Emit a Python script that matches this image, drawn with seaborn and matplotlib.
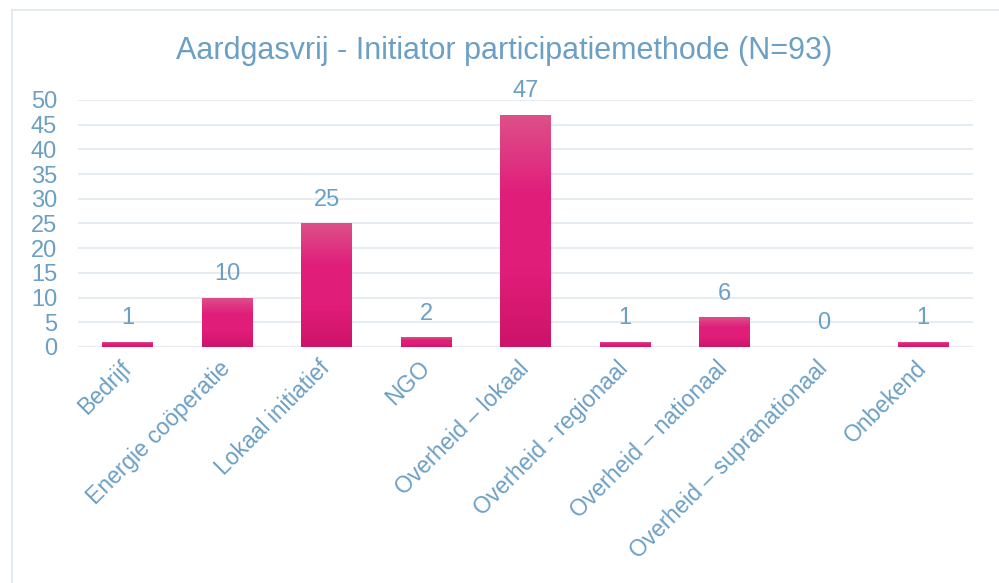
import numpy as np
import matplotlib
matplotlib.use("Agg")
import matplotlib.pyplot as plt
from matplotlib.colors import LinearSegmentedColormap
from matplotlib.patches import Rectangle
import seaborn as sns

# data
categories = ["Bedrijf", "Energie coöperatie", "Lokaal initiatief", "NGO",
              "Overheid \u2013 lokaal", "Overheid - regionaal", "Overheid \u2013 nationaal",
              "Overheid \u2013 supranationaal", "Onbekend"]
values = [1, 10, 25, 2, 47, 1, 6, 0, 1]
yticks = [0, 5, 10, 15, 20, 25, 30, 35, 40, 45, 50]
title = "Aardgasvrij - Initiator participatiemethode (N=93)"

text_col = "#6b9fc3"
grid_col = "#e6ecf2"
bar_cmap = LinearSegmentedColormap.from_list(
    "pinkgrad", ["#cc1469", "#e11d79", "#e01f7b", "#dd5189"])

sns.set_theme(style="white")
plt.rcParams["font.family"] = ["Liberation Sans", "DejaVu Sans"]

fig = plt.figure(figsize=(9.99, 5.83), dpi=100)
ax = fig.add_axes([0.078, 0.405, 0.896, 0.4235])

sns.barplot(x=categories, y=values, color="#e01c79", width=0.51, ax=ax,
            saturation=1)

# gradient fill per bar
grad = np.linspace(0, 1, 256).reshape(-1, 1)
for p in ax.patches:
    x0, w, h = p.get_x(), p.get_width(), p.get_height()
    if h <= 0:
        p.set_visible(False)
        continue
    im = ax.imshow(grad, cmap=bar_cmap, origin="lower", aspect="auto",
                   extent=[x0, x0 + w, 0, h], zorder=3)
    im.set_clip_path(p)
    p.set_edgecolor("none")

for i, v in enumerate(values):
    ax.annotate(str(v), (i, v), xytext=(0, 9), textcoords="offset points",
                ha="center", va="bottom", fontsize=17, color=text_col)

ax.set_xlim(-0.5, len(categories) - 0.5)
ax.set_ylim(0, 50)
ax.set_yticks(yticks)
ax.yaxis.grid(True, color=grid_col, linewidth=1.5)
ax.set_axisbelow(True)
for s in ax.spines.values():
    s.set_visible(False)

ax.tick_params(axis="y", length=0, pad=15, labelsize=17, labelcolor=text_col)
ax.tick_params(axis="x", length=0, pad=13, labelsize=16.5, labelcolor=text_col)
ax.set_xticks(range(len(categories)))
ax.set_xticklabels(categories, rotation=45, ha="right", va="center",
                   rotation_mode="anchor")

fig.text(0.505, 0.913, title, ha="center", va="center", fontsize=22,
         color=text_col)

# chart frame
fig.patches.append(Rectangle((12 / 999, -0.1), 1.1, 1 - 10 / 583 + 0.1,
                             transform=fig.transFigure, fill=False,
                             edgecolor="#e3eaf2", linewidth=1.5))

fig.savefig("out.png", dpi=100)
